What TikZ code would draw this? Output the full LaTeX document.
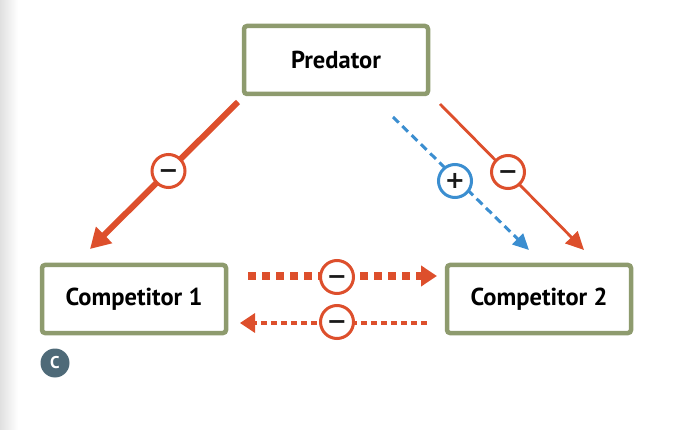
\documentclass[tikz,border=0pt]{standalone}
\usepackage{fontspec}
\setmainfont{PT Sans}
\newfontfamily\signfont{DejaVu Sans}
\usetikzlibrary{arrows.meta}
\definecolor{redc}{HTML}{DD4F2C}
\definecolor{boxg}{HTML}{8E9B6E}
\definecolor{bluec}{HTML}{3B8ED0}
\definecolor{slatec}{HTML}{4E6A78}
\tikzset{
  box/.style={draw=boxg, line width=4.5pt, rounded corners=3pt, fill=white, minimum width=184pt, minimum height=68pt, font=\fontsize{24.5}{28}\selectfont\bfseries},
  sign/.style={circle, draw=redc, line width=3pt, fill=white, minimum size=33pt, inner sep=0pt,
    text height=15.4pt, text depth=0pt, font=\signfont\fontsize{24}{24}\selectfont\bfseries, text=black!90},
  bsign/.style={sign, draw=bluec},
}
\begin{document}
\begin{tikzpicture}[x=1pt,y=-1pt]
\useasboundingbox (0,0) rectangle (680,430);
\shade[left color=black!12, right color=white] (0,0) rectangle (18,430);
\node[box] (pred) at (336,60) {Predator};
\node[box] (c1) at (134,299) {Competitor 1};
\node[box] (c2) at (539,299) {Competitor 2};
\coordinate (a1s) at (238,102);
\coordinate (a1e) at (90,249);
\coordinate (a2s) at (440,104);
\coordinate (a2e) at (584,250);
\coordinate (a3s) at (393,117);
\coordinate (a3e) at (529,250);
\coordinate (h1s) at (248,276);
\coordinate (h1e) at (437,276);
\coordinate (h2s) at (427,323);
\coordinate (h2e) at (240,323);
\draw[redc, line width=6pt, -{Triangle[length=20pt, width=22pt]}] (a1s) -- (a1e);
\draw[redc, line width=2.8pt, -{Triangle[length=18pt, width=17pt]}] (a2s) -- (a2e);
\draw[bluec, line width=3pt, dash pattern=on 8pt off 5pt, -{Triangle[length=16pt, width=15pt]}] (a3s) -- (a3e);
\draw[redc, line width=8.5pt, dash pattern=on 8pt off 6pt, -{Triangle[length=16pt, width=20pt]}] (h1s) -- (h1e);
\draw[redc, line width=3.2pt, dash pattern=on 6pt off 4pt, -{Triangle[length=15pt, width=19pt]}] (h2s) -- (h2e);
\node[sign] (s1) at (168.5,171) {−};
\node[sign] (s2) at (508,172) {−};
\node[bsign] (s3) at (455,181) {+};
\node[sign] (s4) at (337,277) {−};
\node[sign] (s5) at (337,322) {−};
\node[circle, fill=slatec, minimum size=29pt, inner sep=0pt, text=white, font=\fontsize{17}{17}\selectfont\bfseries] (lbl) at (55,363) {C};
\end{tikzpicture}
\end{document}
